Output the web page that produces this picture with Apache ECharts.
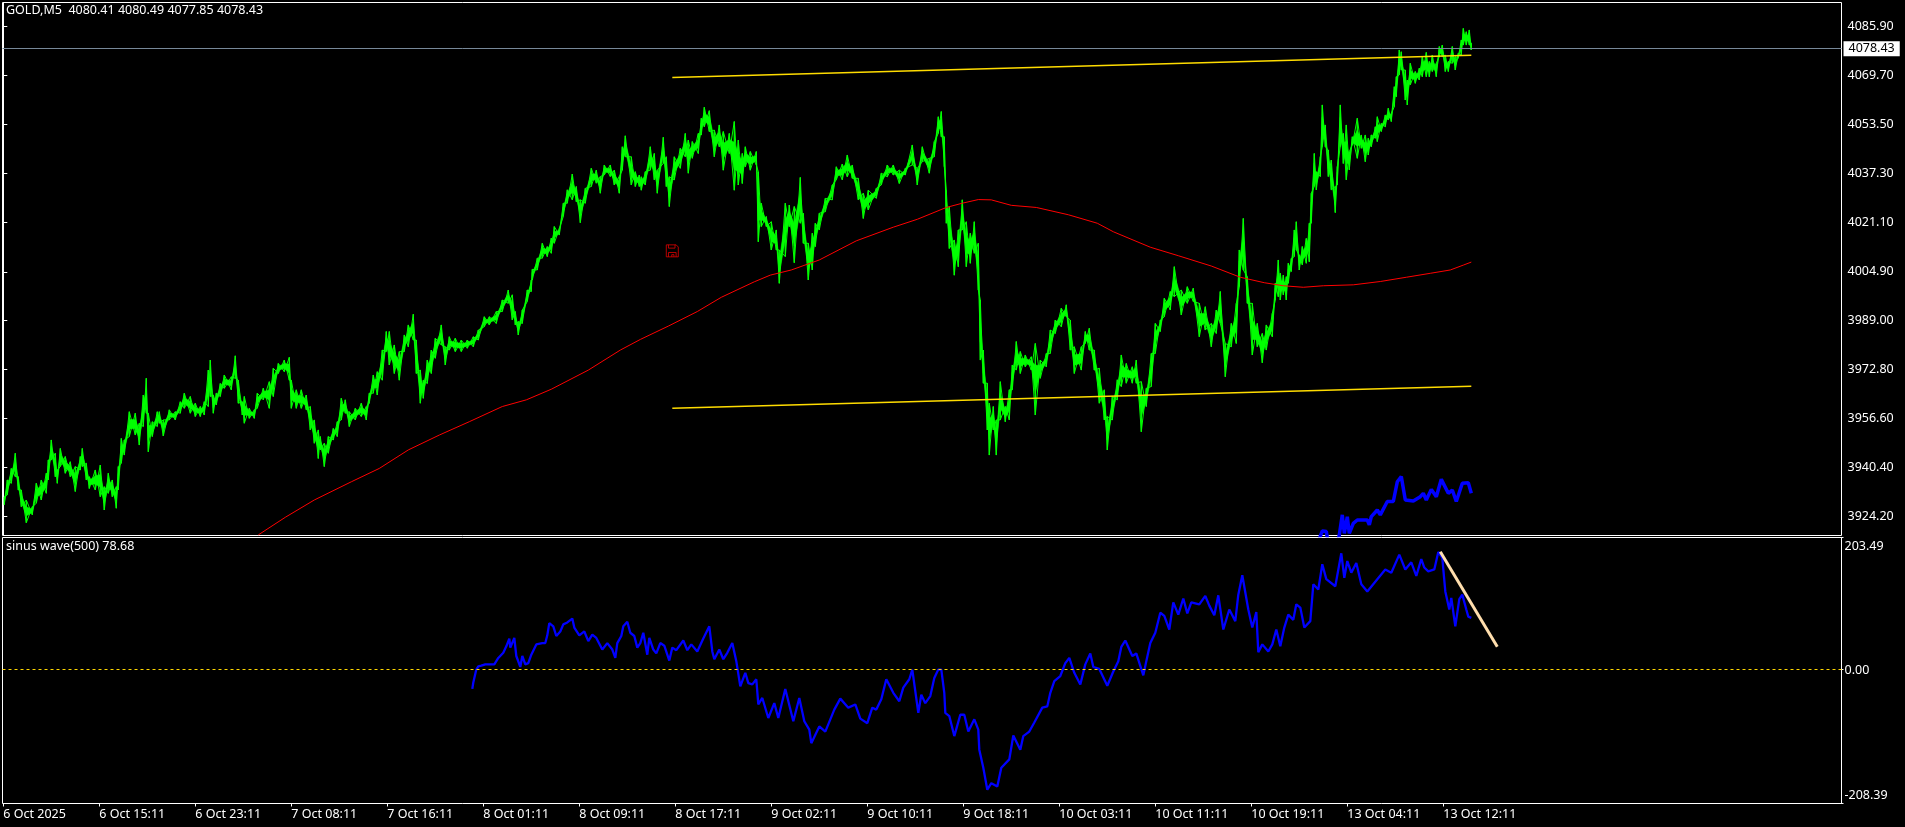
<!DOCTYPE html>
<html><head><meta charset="utf-8">
<style>html,body{margin:0;padding:0;background:#000;overflow:hidden}#c{width:1905px;height:827px}</style>
<script src="https://cdn.jsdelivr.net/npm/echarts@6/dist/echarts.min.js"></script>
</head><body><div id="c"></div>
<script>
const headerText = 'GOLD,M5  4080.41 4080.49 4077.85 4078.43';
const indicatorText = 'sinus wave(500) 78.68';
const lastPrice = 4078.43;
const timeLabels = ['6 Oct 2025','6 Oct 15:11','6 Oct 23:11','7 Oct 08:11','7 Oct 16:11','8 Oct 01:11','8 Oct 09:11','8 Oct 17:11','9 Oct 02:11','9 Oct 10:11','9 Oct 18:11','10 Oct 03:11','10 Oct 11:11','10 Oct 19:11','13 Oct 04:11','13 Oct 12:11'];
const barsPerLabel = 96;
const priceTicks = [4085.90,4069.70,4053.50,4037.30,4021.10,4004.90,3989.00,3972.80,3956.60,3940.40,3924.20];
const sinusTicks = [203.49,0,-208.39];
// [bar, high, low]
const goldRanges = [
[1,3930.8,3928.1],[4,3936.3,3931.4],[8,3940.1,3935.2],[12,3945.1,3937.4],[15,3937.4,3933.0],[18,3933.0,3927.5],[23,3929.7,3922.2],[29,3927.5,3924.8],[33,3935.2,3928.6],[38,3936.3,3929.7],[43,3938.5,3931.9],[45,3942.9,3936.3],[48,3949.5,3942.9],[52,3945.1,3937.4],[54,3939.6,3935.2],[57,3946.7,3940.7],[62,3944.0,3938.5],[67,3942.3,3937.4],[72,3940.7,3932.5],[77,3944.0,3939.6],[79,3946.7,3940.7],[83,3941.8,3936.3],[86,3937.4,3933.5],[92,3939.6,3933.0],[97,3941.2,3930.8],[101,3934.1,3926.4],[105,3938.5,3931.9],[109,3936.3,3930.8],[113,3934.1,3927.0],[115,3940.7,3933.0],[118,3950.0,3941.8],[121,3949.5,3944.5],[126,3958.8,3950.6],[132,3958.3,3951.1],[136,3955.0,3947.8],[140,3964.3,3953.9],[143,3969.8,3958.3],[145,3958.3,3945.6],[149,3955.5,3950.6],[154,3958.8,3953.9],[156,3958.8,3955.0],[160,3956.1,3950.8],[166,3959.4,3956.1],[172,3958.8,3956.1],[177,3962.1,3958.3],[181,3964.9,3959.9],[187,3963.8,3958.3],[192,3961.6,3957.2],[197,3960.5,3957.2],[201,3962.1,3957.7],[205,3972.5,3960.5],[207,3975.8,3963.8],[210,3964.3,3958.3],[213,3964.9,3961.0],[217,3968.1,3963.8],[221,3970.9,3966.5],[228,3970.3,3966.0],[232,3977.2,3969.8],[235,3969.2,3961.6],[239,3962.1,3957.7],[241,3963.8,3955.0],[246,3959.9,3956.6],[251,3959.4,3956.6],[254,3964.9,3959.9],[260,3966.5,3962.7],[266,3968.7,3959.9],[270,3973.1,3963.8],[275,3974.7,3971.4],[281,3975.8,3972.0],[286,3976.7,3969.2],[288,3969.2,3959.9],[293,3966.0,3959.9],[298,3966.0,3959.9],[303,3964.3,3959.4],[307,3960.5,3952.8],[311,3956.1,3948.4],[315,3952.8,3943.4],[317,3950.6,3946.2],[321,3948.4,3940.7],[325,3950.6,3945.1],[330,3953.3,3949.5],[334,3955.5,3950.6],[338,3963.2,3956.1],[342,3962.7,3958.3],[346,3958.8,3953.9],[352,3959.9,3956.1],[358,3961.6,3957.2],[363,3960.5,3956.1],[366,3964.9,3961.6],[370,3970.9,3964.9],[374,3972.0,3964.3],[379,3979.1,3969.2],[383,3985.2,3978.6],[386,3985.2,3974.2],[391,3980.8,3971.4],[396,3978.6,3969.2],[401,3984.1,3978.6],[405,3987.4,3980.2],[410,3990.9,3982.4],[413,3982.4,3971.4],[417,3972.5,3961.6],[420,3969.2,3963.2],[424,3975.8,3968.1],[428,3979.1,3971.4],[432,3983.0,3976.4],[438,3987.4,3980.8],[442,3980.2,3974.2],[446,3983.5,3979.1],[452,3983.0,3978.6],[458,3982.4,3978.6],[464,3982.4,3979.7],[470,3983.5,3980.2],[475,3985.7,3982.4],[481,3990.1,3986.8],[486,3990.1,3987.4],[493,3991.8,3987.9],[499,3995.6,3991.8],[505,3998.9,3994.5],[509,3997.3,3989.0],[512,3991.8,3987.4],[515,3988.5,3984.1],[519,3992.3,3987.9],[524,3998.9,3995.1],[528,4002.2,3998.4],
[529,4005.7,4002.2],[534,4009.4,4005.5],[539,4014.3,4009.4],[544,4013.2,4009.9],[548,4016.0,4011.0],[551,4019.8,4014.3],[556,4019.2,4017.0],[560,4027.5,4023.1],[564,4031.9,4027.5],[569,4037.1,4028.6],[573,4033.0,4028.0],[577,4028.6,4021.1],[582,4032.4,4027.5],[588,4039.0,4033.0],[593,4038.4,4034.1],[597,4036.3,4030.8],[601,4040.1,4036.8],[607,4040.1,4036.3],[611,4038.4,4033.5],[616,4036.3,4030.8],[619,4046.1,4038.4],[622,4049.7,4042.8],[628,4042.8,4033.5],[632,4037.9,4033.0],[636,4036.8,4033.0],
[638,4036.2,4031.8],[642,4037.9,4033.5],[647,4046.1,4038.4],[651,4043.9,4035.2],[654,4038.4,4030.8],[660,4049.2,4040.6],[663,4042.8,4033.0],[666,4036.2,4026.4],[671,4042.8,4035.2],[677,4045.6,4039.0],[682,4050.5,4042.8],[685,4048.3,4037.4],[689,4047.8,4042.3],[695,4050.5,4043.9],[698,4055.5,4050.0],[701,4059.1,4052.7],[706,4058.0,4051.1],[711,4051.6,4042.8],[716,4053.3,4046.1],[720,4051.1,4038.4],[726,4050.5,4043.9],[731,4054.4,4031.8],[735,4048.3,4033.5],[739,4043.9,4034.0],[742,4046.1,4039.5],[747,4044.5,4038.4],[753,4044.5,4040.1],[755,4037.9,4014.8],[758,4027.5,4019.8],[763,4023.1,4019.8],[768,4021.4,4012.1],[773,4018.7,4012.1],[776,4012.1,4001.1],[782,4027.5,4009.9],[786,4026.9,4019.8],[791,4026.4,4007.9],[797,4036.0,4020.9],[800,4024.2,4014.3],[805,4014.3,4002.2],[809,4017.6,4005.5],[812,4020.9,4013.2],[816,4024.2,4018.7],[822,4029.1,4024.7],[829,4033.5,4028.6],[833,4039.5,4035.2],[839,4040.4,4035.2],[844,4043.4,4036.2],[849,4040.1,4035.7],[855,4035.7,4028.6],[860,4030.8,4022.5],[865,4031.8,4025.3],[873,4032.4,4029.1],[878,4037.4,4033.5],[884,4040.1,4036.2],[890,4040.1,4036.8],[896,4038.4,4034.0],[902,4039.0,4036.8],[909,4046.7,4040.1],[914,4039.0,4033.5],[919,4046.1,4041.2],[926,4042.3,4037.4],[931,4047.8,4042.8],[935,4056.0,4050.5],[938,4057.7,4049.4],[941,4049.4,4039.5],[943,4031.8,4020.9],[946,4026.4,4012.6],[951,4015.4,4003.8],[955,4018.7,4006.6],[959,4028.6,4018.7],[963,4021.4,4006.6],[967,4017.6,4007.7],[971,4021.4,4011.0],[975,4014.3,3998.9],[977,3995.6,3975.8],[980,3979.1,3968.2],[984,3968.2,3952.8],[986,3961.6,3944.5],[990,3960.5,3952.8],[993,3956.1,3944.5],[997,3968.7,3956.1],[1002,3960.5,3955.5],[1006,3966.0,3956.1],[1009,3974.2,3966.0],[1013,3981.9,3972.5],[1017,3978.6,3971.4],[1022,3977.5,3973.6],[1028,3976.9,3972.5],[1032,3981.3,3957.7],[1037,3975.8,3969.8],[1043,3978.0,3973.6],[1047,3985.7,3978.0],[1052,3989.0,3984.6],[1058,3992.9,3986.8],[1063,3994.0,3990.1],[1067,3989.0,3979.1],[1071,3980.2,3971.4],[1078,3980.2,3972.5],[1082,3985.2,3981.3],[1086,3986.3,3979.1],[1091,3979.1,3972.5],[1096,3973.1,3961.6],[1101,3966.0,3956.1],[1104,3957.2,3946.2],[1109,3963.8,3956.1],[1114,3969.3,3962.7],[1118,3977.5,3967.1],[1123,3974.7,3968.2],[1129,3973.6,3968.2],[1133,3975.8,3968.2],[1138,3968.7,3952.2],[1143,3966.5,3960.5],[1148,3978.0,3967.1],[1152,3987.9,3978.0],[1157,3989.0,3985.2],[1161,3996.2,3990.1],[1167,3998.4,3992.3],[1171,4006.6,3996.7],[1178,3998.9,3990.7],[1184,4000.0,3994.5],[1190,3999.5,3995.1],[1196,3994.5,3983.5],[1202,3993.4,3985.7],[1208,3987.9,3980.2],[1213,3992.3,3984.6],[1217,3998.4,3987.9],[1222,3981.3,3970.3],[1228,3987.9,3980.2],[1233,3994.5,3981.3],[1236,4012.1,4000.0],[1240,4022.5,4005.5],[1244,4003.3,3994.5],[1249,3994.5,3977.5],[1254,3987.9,3980.2],[1259,3984.6,3974.9],[1263,3987.4,3979.1],[1269,3991.2,3983.5],
[1272,4001.1,3995.6],[1275,4008.8,3996.7],[1277,4004.4,3995.6],[1280,4003.8,3997.3],[1283,4003.3,3995.6],[1285,4007.7,4001.1],[1288,4009.3,4005.0],[1291,4018.7,4009.9],[1293,4021.4,4012.1],[1296,4010.4,4005.5],[1299,4013.2,4007.2],[1303,4015.9,4007.7],[1306,4020.9,4008.2],[1308,4030.8,4020.9],[1311,4043.9,4033.0],[1313,4037.9,4031.9],[1317,4042.8,4036.3],[1319,4059.9,4046.1],[1322,4053.3,4046.1],[1325,4045.0,4036.3],[1328,4041.7,4031.9],[1332,4033.0,4024.4],[1334,4039.6,4033.5],[1337,4059.9,4046.1],[1340,4050.5,4040.6],[1343,4053.3,4035.2],[1346,4044.5,4038.5],[1349,4049.4,4046.7],[1354,4055.5,4042.3],[1358,4050.0,4045.6],[1362,4050.0,4041.2],[1365,4048.9,4043.4],[1368,4050.0,4046.1],[1372,4052.7,4048.9],[1374,4056.0,4047.8],[1378,4053.8,4051.1],[1382,4056.6,4052.7],[1385,4058.8,4054.9],[1388,4057.1,4054.4],[1391,4065.9,4059.3],[1393,4069.2,4062.6],[1396,4078.0,4069.8],[1398,4077.4,4071.4],[1402,4071.4,4061.5],[1404,4068.1,4059.9],[1407,4073.6,4066.5],[1412,4070.9,4067.0],[1416,4072.0,4068.1],[1419,4075.8,4069.2],[1423,4077.2,4069.2],[1426,4074.2,4069.2],[1429,4076.3,4070.9],[1433,4073.6,4069.2],[1436,4079.1,4075.8],[1439,4079.6,4075.8],[1442,4076.3,4070.9],[1445,4074.2,4070.9],[1449,4079.1,4073.6],[1452,4075.8,4071.4],[1455,4076.9,4075.3],[1458,4081.3,4076.3],[1460,4085.1,4079.6],[1463,4084.0,4079.6],[1466,4084.6,4079.6],[1468,4080.2,4078.0]
];
const movingAverage = [[255,3918.2],[282,3924.0],[311,3929.7],[348,3935.7],[376,3940.1],[405,3946.2],[436,3951.1],[466,3955.5],[499,3960.5],[523,3962.7],[548,3966.2],[585,3972.5],[617,3979.1],[637,3982.6],[665,3987.0],[694,3991.8],[718,3996.5],[751,4001.6],[767,4003.8],[788,4005.5],[816,4008.8],[853,4015.1],[890,4019.6],[914,4022.2],[943,4026.1],[959,4027.5],[975,4028.7],[988,4028.6],[1008,4026.8],[1033,4026.1],[1065,4023.7],[1094,4020.9],[1110,4018.1],[1147,4013.0],[1175,4010.2],[1208,4006.8],[1237,4003.1],[1261,4001.3],[1280,4000.3],[1300,3999.8],[1320,4000.3],[1350,4000.6],[1377,4001.7],[1403,4003.1],[1427,4004.4],[1447,4005.5],[1460,4007.1],[1468,4008.1]];
const upperChannel = [[669,4068.9],[1468,4076.25]];
const lowerChannel = [[669,3959.9],[1468,3967.2]];
const savedMark = [[669,4011.8]];
const blueOnPrice = [[1313,3914.3],[1319,3919.5],[1323,3919.3],[1325,3915.4],[1334,3915.4],[1336,3918.2],[1339,3924.8],[1341,3918.7],[1344,3924.2],[1346,3918.7],[1350,3922.0],[1354,3923.1],[1364,3923.1],[1366,3921.5],[1368,3924.2],[1374,3926.4],[1377,3924.8],[1384,3929.2],[1390,3929.2],[1394,3935.7],[1398,3937.4],[1402,3929.7],[1410,3929.4],[1417,3930.8],[1420,3931.9],[1423,3929.7],[1428,3933.2],[1433,3930.8],[1438,3936.5],[1445,3931.9],[1449,3933.0],[1453,3929.2],[1459,3935.2],[1465,3935.4],[1468,3931.9]];
const sinusWave = [[469,-31],[470,-21],[473,-1],[475,4],[478,5],[482,7],[486,7],[491,7],[495,17],[500,25],[503,35],[506,47],[507,33],[511,48],[513,20],[517,3],[519,20],[522,7],[525,9],[528,22],[533,38],[539,40],[542,40],[544,52],[546,71],[550,66],[553,51],[557,58],[560,69],[564,72],[569,78],[571,64],[576,52],[581,58],[585,43],[589,53],[593,48],[599,30],[604,40],[609,30],[612,17],[614,40],[618,51],[620,66],[624,73],[627,56],[631,51],[634,33],
[637,40],[640,56],[644,22],[646,48],[650,30],[653,24],[657,40],[661,36],[666,13],[669,33],[673,29],[680,44],[684,29],[688,38],[694,27],[700,47],[706,66],[709,27],[711,15],[716,30],[720,15],[724,25],[729,40],[731,38],[733,12],[737,-27],[742,-6],[745,-22],[749,-24],[753,-16],[755,-55],[759,-45],[765,-76],[771,-53],[775,-76],[782,-31],[784,-32],[790,-81],[796,-45],[801,-81],[806,-94],[808,-115],[816,-89],[822,-97],[831,-63],[837,-46],[845,-60],[852,-55],[857,-77],[864,-84],[869,-60],[873,-63],[878,-47],[883,-16],[890,-37],[896,-50],[900,-29],[906,-16],[909,-1],[915,-68],[918,-40],[922,-53],[927,-42],[931,-14],[935,-1],[938,-1],[941,-37],[942,-68],[946,-73],[951,-104],[957,-71],[961,-71],[965,-97],[971,-78],[975,-94],[976,-125],[980,-153],[984,-187],[988,-177],[994,-182],[998,-153],[1006,-140],[1010,-103],[1017,-125],[1020,-104],[1026,-97],[1031,-83],[1039,-60],[1044,-58],[1047,-37],[1051,-19],[1057,-11],[1062,9],[1066,17],[1071,-6],[1077,-24],[1082,7],[1087,24],[1090,3],[1096,0],[1104,-26],[1110,-4],[1115,12],[1118,34],[1122,44],[1129,20],[1133,24],[1140,-10],[1143,12],[1147,40],[1152,56],[1157,87],[1161,82],[1166,61],[1170,103],[1175,84],[1180,109],[1184,86],[1188,103],[1196,100],[1202,113],[1206,98],[1211,83],[1215,114],[1220,61],[1226,92],[1232,74],[1235,115],[1239,145],[1245,92],[1249,64],[1253,88],[1255,26],[1259,38],[1265,27],[1269,38],[1273,61],[1277,35],
[1281,64],[1285,84],[1290,76],[1293,100],[1297,95],[1301,64],[1307,74],[1310,131],[1315,123],[1319,162],[1323,139],[1332,128],[1336,162],[1338,179],[1341,141],[1344,167],[1348,149],[1353,164],[1358,131],[1364,120],[1374,139],[1382,154],[1388,149],[1396,177],[1402,154],[1408,165],[1413,144],[1418,170],[1421,157],[1425,151],[1431,154],[1435,181],[1439,172],[1442,120],[1446,92],[1448,110],[1452,66],[1456,108],[1459,115],[1463,92],[1465,81],[1468,79]];
const sinusTrendline = [[1437,181.5],[1494,34.2]];

const font = '"Noto Sans", sans-serif';
const textColor = '#ffffff';
const green = '#00ff00';
const tickPositions = timeLabels.map((_, i) => i * barsPerLabel);
const chart = echarts.init(document.getElementById('c'), null, {renderer:'canvas', width:1905, height:827});
const floppy = 'path://M1 1H10L12 3V12H1Z M3 12V8H10V12 M6 12V10H8V12 M3 1V4H9V1';

function renderGold(params, api) {
  const i = params.dataIndex, r = goldRanges[i], n = goldRanges[Math.min(i + 1, goldRanges.length - 1)];
  const hi = api.coord([r[0], r[1]]), lo = api.coord([r[0], r[2]]);
  const nHi = api.coord([n[0], n[1]]), nLo = api.coord([n[0], n[2]]);
  const lineStyle = {stroke:green, lineWidth:1.3, fill:null};
  const thin = {stroke:green, lineWidth:1, fill:null};
  const core = {fill:green, stroke:green, lineWidth:0.5};
  const mix = (a, b, t) => [a[0] + (b[0] - a[0]) * t, a[1] + (b[1] - a[1]) * t];
  return {type:'group', children:[
    {type:'polygon', shape:{points:[mix(hi, lo, 0.3), mix(nHi, nLo, 0.3), mix(nHi, nLo, 0.7), mix(hi, lo, 0.7)]}, style:core},
    {type:'line', shape:{x1:hi[0], y1:hi[1], x2:lo[0], y2:lo[1]}, style:lineStyle},
    {type:'line', shape:{x1:lo[0], y1:lo[1], x2:nHi[0], y2:nHi[1]}, style:thin},
    {type:'line', shape:{x1:hi[0], y1:hi[1], x2:nLo[0], y2:nLo[1]}, style:thin}
  ]};
}

chart.setOption({
  animation:false,
  backgroundColor:'#000',
  title:[
    {text:headerText, left:6, top:4, padding:0, textStyle:{color:textColor, fontSize:12.5, fontWeight:'normal', fontFamily:font}},
    {text:indicatorText, left:6, top:540, padding:0, textStyle:{color:textColor, fontSize:12.5, fontWeight:'normal', fontFamily:font}}
  ],
  grid:[
    {left:2.5, top:2.5, width:1839, height:533, show:true, borderColor:'#fff', borderWidth:1, backgroundColor:'transparent'},
    {left:2.5, top:537.5, width:1839, height:266, show:true, borderColor:'#fff', borderWidth:1, backgroundColor:'transparent'}
  ],
  xAxis:[
    {type:'value', gridIndex:0, min:-0.8, max:1838.2, axisLine:{show:false, onZero:false}, axisTick:{show:false}, axisLabel:{show:false}, splitLine:{show:false}},
    {type:'value', gridIndex:1, min:-0.8, max:1838.2, position:'bottom', axisLine:{show:false, onZero:false},
      axisTick:{length:3, lineStyle:{color:'#fff'}, customValues:tickPositions},
      axisLabel:{customValues:tickPositions, color:textColor, fontFamily:font, fontSize:12.5, margin:4, align:'left',
        formatter:v => timeLabels[Math.round(v / barsPerLabel)]},
      splitLine:{show:false}}
  ],
  yAxis:[
    {type:'value', gridIndex:0, min:3918, max:4093.64, position:'right', axisLine:{show:true, lineStyle:{color:'#fff'}},
      axisTick:{show:true, length:4, lineStyle:{color:'#fff'}, customValues:priceTicks},
      axisLabel:{customValues:priceTicks, color:textColor, fontFamily:font, fontSize:12.5, margin:6, formatter:v => v.toFixed(2)},
      splitLine:{show:false}},
    {type:'value', gridIndex:1, min:-208.39, max:203.49, position:'right', axisLine:{show:true, onZero:false, lineStyle:{color:'#fff'}},
      axisTick:{show:true, length:2, lineStyle:{color:'#fff'}, customValues:sinusTicks},
      axisLabel:{customValues:sinusTicks, color:textColor, fontFamily:font, fontSize:12.5, margin:3,
        formatter:v => '{' + (v > 0 ? 'top' : v < 0 ? 'bottom' : 'zero') + '|' + v.toFixed(2) + '}',
        rich:{top:{padding:[18,0,0,0], color:textColor, fontFamily:font, fontSize:12.5},
              zero:{padding:[4,0,0,0], color:textColor, fontFamily:font, fontSize:12.5},
              bottom:{padding:[0,0,16,0], color:textColor, fontFamily:font, fontSize:12.5}}},
      splitLine:{show:false}}
  ],
  series:[
    {type:'line', name:'price line', xAxisIndex:0, yAxisIndex:0, data:[], silent:true, z:1,
      markLine:{silent:true, symbol:'none', animation:false,
        lineStyle:{color:'#778899', width:1, type:'solid'},
        label:{show:true, position:'end', distance:2, formatter:() => lastPrice.toFixed(2), color:'#000', backgroundColor:'#fff', fontFamily:font, fontSize:12.5, padding:[1,5,1,5]},
        data:[{yAxis:lastPrice}]}},
    {type:'custom', name:'GOLD', xAxisIndex:0, yAxisIndex:0, data:goldRanges, renderItem:renderGold, clip:true, encode:{x:0, y:[1,2]}, z:2, silent:true},
    {type:'line', name:'MA', xAxisIndex:0, yAxisIndex:0, data:movingAverage, showSymbol:false, lineStyle:{color:'#ff0000', width:1}, z:3, silent:true},
    {type:'line', name:'upper', xAxisIndex:0, yAxisIndex:0, data:upperChannel, showSymbol:false, lineStyle:{color:'#ffdc00', width:1.5}, z:4, silent:true},
    {type:'line', name:'lower', xAxisIndex:0, yAxisIndex:0, data:lowerChannel, showSymbol:false, lineStyle:{color:'#ffdc00', width:1.5}, z:4, silent:true},
    {type:'line', name:'blue main', xAxisIndex:0, yAxisIndex:0, data:blueOnPrice, showSymbol:false, lineStyle:{color:'#0000ff', width:3.5}, z:4, silent:true},
    {type:'scatter', name:'saved', xAxisIndex:0, yAxisIndex:0, data:savedMark, symbol:floppy, symbolSize:[12,12], itemStyle:{color:'transparent', borderColor:'#e00000', borderWidth:1}, z:5, silent:true},
    {type:'line', name:'sinus wave(500)', xAxisIndex:1, yAxisIndex:1, data:sinusWave, showSymbol:false, lineStyle:{color:'#0000ff', width:2.3}, z:3, silent:true,
      markLine:{silent:true, symbol:'none', animation:false, label:{show:false},
        lineStyle:{color:'#ffd700', width:1, type:[3,3]}, data:[{yAxis:0}]}},
    {type:'line', name:'trend', xAxisIndex:1, yAxisIndex:1, data:sinusTrendline, showSymbol:false, lineStyle:{color:'#ffdead', width:3}, z:4, silent:true}
  ]
});
</script></body></html>
